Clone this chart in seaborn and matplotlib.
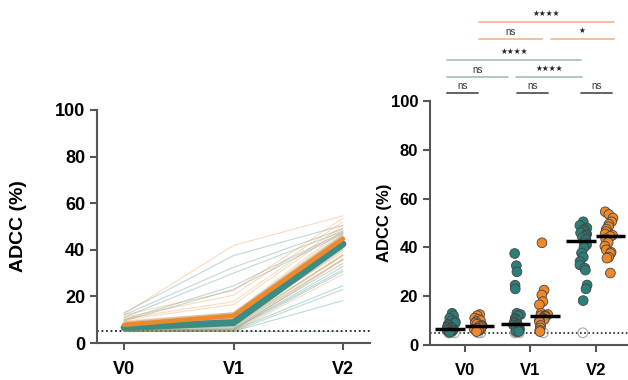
import numpy as np
import pandas as pd
import matplotlib
matplotlib.use("Agg")
import matplotlib.pyplot as plt
import seaborn as sns

# Datos por sujeto (ADCC %), emparejados por índice a través de las visitas
visits = ["V0", "V1", "V2"]
groups = ["Grupo A", "Grupo B"]
teal_v0 = [13.0, 12.0, 11.0, 10.0, 9.5, 9.0, 8.5, 8.0, 7.5, 7.2, 7.0, 7.0, 6.8,
           6.5, 6.2, 6.0, 6.0, 5.8, 5.5, 5.5, 5.2, 5.0, 5.0, 5.0, 5.0, 5.0]
teal_v1 = [37.5, 32.5, 30.0, 24.5, 23.0, 13.0, 12.5, 12.0, 11.0, 10.5, 10.0, 9.5, 9.0,
           8.5, 8.2, 8.0, 7.5, 7.0, 6.5, 6.0, 6.0, 5.5, 5.5, 5.0, 5.0, 5.0]
teal_v2 = [50.5, 49.0, 48.0, 47.5, 47.0, 46.5, 46.0, 45.5, 45.0, 44.5, 44.0, 43.5, 43.0,
           42.0, 41.0, 40.0, 37.7, 36.0, 34.2, 32.8, 31.5, 30.7, 24.6, 23.0, 18.2, 5.0]
orange_v0 = [12.5, 12.0, 11.0, 10.5, 10.0, 9.5, 9.0, 8.5, 8.0, 7.8, 7.8, 7.5, 7.0,
             6.8, 6.5, 6.0, 6.0, 5.5, 5.0, 5.0]
orange_v1 = [41.9, 22.5, 20.5, 17.8, 16.5, 13.0, 12.5, 12.0, 12.0, 11.8, 11.6, 11.0, 10.5,
             10.0, 9.5, 8.0, 7.0, 6.0, 5.5, 5.0]
orange_v2 = [54.6, 53.5, 52.0, 50.5, 49.5, 48.5, 47.5, 46.5, 45.5, 45.0, 44.5, 43.5, 42.0,
             40.5, 39.0, 38.0, 37.5, 36.0, 35.6, 29.5]
lod = 5.0  # límite de detección

# Comparaciones: (x0, x1, nivel y, etiqueta, color)
brackets = [
    (-0.27, 0.20, 103.3, "ns", "#555555"),
    (0.79, 1.27, 103.3, "ns", "#555555"),
    (1.77, 2.24, 103.3, "ns", "#555555"),
    (-0.27, 0.66, 109.8, "ns", "#a9c4c1"),
    (0.78, 1.79, 109.8, "★★★★", "#a9c4c1"),
    (-0.27, 1.77, 116.8, "★★★★", "#a9c4c1"),
    (0.21, 1.18, 125.4, "ns", "#f2bb98"),
    (1.31, 2.27, 125.4, "★", "#f2bb98"),
    (0.21, 2.27, 132.4, "★★★★", "#f2bb98"),
]

teal = "#2b7f78"
orange = "#f0882a"
pal = {groups[0]: teal, groups[1]: orange}

rows = []
for g, series in [(groups[0], [teal_v0, teal_v1, teal_v2]),
                  (groups[1], [orange_v0, orange_v1, orange_v2])]:
    for v, vals in zip(visits, series):
        for i, val in enumerate(vals):
            rows.append({"sujeto": f"{g}-{i}", "grupo": g, "visita": v, "ADCC": val})
df = pd.DataFrame(rows)

sns.set_style("ticks")
plt.rcParams["font.family"] = ["Liberation Sans", "DejaVu Sans"]
plt.rcParams["font.weight"] = "bold"
plt.rcParams["axes.labelweight"] = "bold"
plt.rcParams["text.color"] = "black"
plt.rcParams["axes.labelcolor"] = "black"

fig = plt.figure(figsize=(6.28, 3.8), dpi=100)
ax1 = fig.add_axes([97 / 628, 37 / 380, 273 / 628, 233 / 380])
ax2 = fig.add_axes([430 / 628, 35 / 380, 198 / 628, 244 / 380])

# ---- Panel izquierdo: trayectorias individuales + mediana ----
sns.lineplot(data=df, x="visita", y="ADCC", hue="grupo", units="sujeto", estimator=None,
             palette=pal, alpha=0.3, lw=0.8, legend=False, ax=ax1)
sns.lineplot(data=df[df["grupo"] == groups[0]], x="visita", y="ADCC", estimator="median",
             errorbar=None, color="#3a8c85", lw=5, ax=ax1)
sns.lineplot(data=df[df["grupo"] == groups[1]], x="visita", y="ADCC", estimator="median",
             errorbar=None, color=orange, lw=3.2, ax=ax1)
ax1.axhline(lod, ls=(0, (1, 1.5)), color="#222222", lw=1.3, zorder=0)
ax1.set_xlim(-0.247, 2.247)
ax1.set_ylim(0, 100)
ax1.set_yticks([0, 20, 40, 60, 80, 100])
ax1.set_xlabel("")
ax1.set_ylabel("ADCC (%)", fontsize=14)
ax1.yaxis.set_label_coords(-0.256, 0.5)
ax1.tick_params(axis="both", labelsize=13, length=5, width=1.5, color="#555555",
                labelcolor="black")
ax1.tick_params(axis="x", pad=8)

# ---- Panel derecho: puntos por grupo + mediana ----
filled = df[df["ADCC"] > lod]
hollow = df[df["ADCC"] <= lod]
np.random.seed(3)
sns.stripplot(data=filled, x="visita", y="ADCC", hue="grupo", order=visits, hue_order=groups,
              dodge=True, jitter=0.14, palette=pal, size=7, edgecolor="#444444",
              linewidth=0.6, legend=False, ax=ax2, zorder=3)
n_before = len(ax2.collections)
sns.stripplot(data=hollow, x="visita", y="ADCC", hue="grupo", order=visits, hue_order=groups,
              dodge=True, jitter=0.1, palette={g: "#aaaaaa" for g in groups}, size=7,
              legend=False, ax=ax2, zorder=2)
for c in ax2.collections[n_before:]:
    c.set_facecolor("none")
    c.set_edgecolor("#aaaaaa")
    c.set_linewidth(0.8)
sns.boxplot(data=df, x="visita", y="ADCC", hue="grupo", order=visits, hue_order=groups,
            dodge=True, width=0.9, showbox=False, showcaps=False, showfliers=False,
            whiskerprops={"visible": False},
            medianprops={"color": "black", "linewidth": 2.5, "zorder": 5},
            legend=False, ax=ax2)
ax2.axhline(lod, ls=(0, (1, 1.5)), color="#222222", lw=1.2, zorder=1)
ax2.set_xlim(-0.53, 2.49)
ax2.set_ylim(0, 100)
ax2.set_yticks([0, 20, 40, 60, 80, 100])
ax2.set_xlabel("")
ax2.set_ylabel("ADCC (%)", fontsize=12)
ax2.yaxis.set_label_coords(-0.19, 0.5)
ax2.tick_params(axis="both", labelsize=12, length=5, width=1.5, color="#555555",
                labelcolor="black")
ax2.tick_params(axis="x", pad=8)

for x0, x1, y, lab, col in brackets:
    ax2.plot([x0, x1], [y, y], color=col, lw=1.3, clip_on=False)
    if lab == "ns":
        ax2.text((x0 + x1) / 2, y + 2.9, lab, ha="center", va="center", fontsize=7,
                 fontweight="normal", color="#333333", clip_on=False)
    else:
        ax2.text((x0 + x1) / 2, y + 3.5, lab, ha="center", va="center", fontsize=5.5,
                 family="DejaVu Sans", color="#222222", clip_on=False)

for ax in (ax1, ax2):
    sns.despine(ax=ax)
    for s in ("left", "bottom"):
        ax.spines[s].set_linewidth(1.5)
        ax.spines[s].set_color("#555555")

fig.savefig("out.png", dpi=100)
